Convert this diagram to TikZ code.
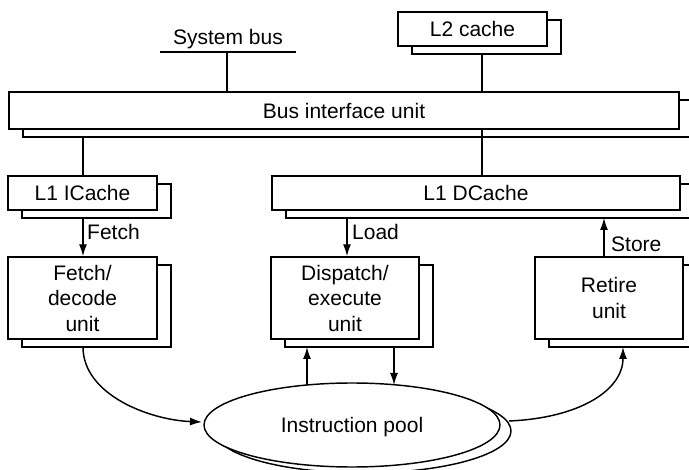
\documentclass[tikz,border=0pt]{standalone}
\usepackage{fontspec}
\setmainfont{Liberation Sans}
\usetikzlibrary{shapes.geometric,shadows,arrows.meta}
\begin{document}
\begin{tikzpicture}[x=1pt,y=-1pt,
  ln/.style={line width=1.45pt},
  txt/.style={font=\fontsize{21}{25.5}\selectfont},
  box/.style={draw, ln, fill=white, inner sep=0pt, align=center, txt,
    copy shadow={shadow xshift=14pt, shadow yshift=-8pt, draw=black, fill=white, line width=1.45pt}},
  poolshape/.style={draw, ln, fill=white, ellipse, inner sep=0pt, txt, text depth=0pt,
    copy shadow={shadow xshift=11pt, shadow yshift=-6pt, draw=black, fill=white, line width=1.45pt}},
  lbl/.style={txt, inner sep=0pt},
  arr/.style={ln, -{Latex[length=12pt,width=8pt]}}]
\path[use as bounding box, clip] (0,0) rectangle (689,470);

% nodes
\node[box, minimum width=149pt, minimum height=34pt] (l2) at (472.5,29) {L2 cache};
\node[box, minimum width=670pt, minimum height=37pt] (biu) at (344,110.5) {Bus interface unit};
\node[box, minimum width=149pt, minimum height=34pt] (l1i) at (82.5,193) {L1 ICache};
\node[box, minimum width=408pt, minimum height=34pt] (l1d) at (476,193) {L1 DCache};
\node[box, minimum width=149pt, minimum height=82pt] (fd) at (82.5,298) {Fetch/\\decode\\unit};
\node[box, minimum width=148pt, minimum height=82pt] (de) at (345,298) {Dispatch/\\execute\\unit};
\node[box, minimum width=148pt, minimum height=82pt] (ru) at (609,298) {Retire\\unit};
\node[poolshape, minimum width=296pt, minimum height=84pt] (pool) at (352,425) {Instruction pool};

% system bus
\coordinate (sbl) at (160,52);
\coordinate (sbr) at (296,52);
\coordinate (sbm) at (227,52);
\draw[ln] (sbl) -- (sbr);
\draw[ln] (sbm) -- (sbm |- biu.north);
\node[lbl, anchor=base] (sbt) at (228,45) {System bus};

% L2 to BIU
\coordinate (l2b) at (482,54);
\draw[ln] (l2b) -- (l2b |- biu.north);
% BIU to L1 caches
\coordinate (bdl) at (83,137);
\draw[ln] (bdl) -- (bdl |- l1i.north);
\coordinate (bdr) at (482,129);
\draw[ln] (bdr) -- (bdr |- l1d.north);

% Fetch
\coordinate (fa) at (83,218);
\draw[arr] (fa) -- (fa |- fd.north);
\node[lbl, anchor=west] (fetchl) at (87,232) {Fetch};
% Load
\coordinate (la) at (347,218);
\draw[arr] (la) -- (la |- de.north);
\node[lbl, anchor=west] (loadl) at (352,232) {Load};
% Store
\coordinate (sa) at (604,218);
\draw[arr] (sa |- ru.north) -- (sa);
\node[lbl, anchor=west] (storel) at (611,244) {Store};

% dispatch <-> pool
\coordinate (pu) at (307,385);
\coordinate (pu2) at (307,347);
\draw[arr] (pu) -- (pu2);
\coordinate (pd) at (394,347);
\coordinate (pd2) at (394,385);
\draw[arr] (pd) -- (pd2);

% curves
\coordinate (fdb) at (83,347);
\coordinate (pin) at (202,422);
\draw[arr] (fdb) .. controls (83,395) and (150,420) .. (pin);
\coordinate (pout) at (509,421);
\coordinate (rub) at (623,347);
\draw[arr] (pout) .. controls (580,418) and (623,390) .. (rub);
\end{tikzpicture}
\end{document}
